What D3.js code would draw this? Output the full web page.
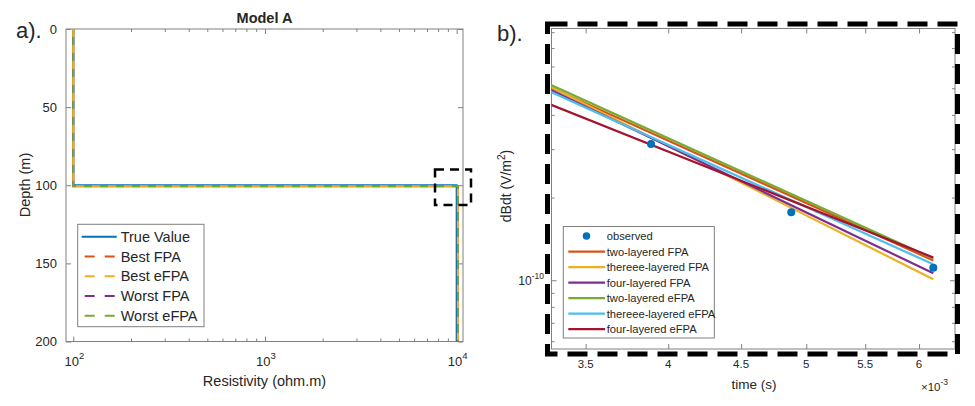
<!DOCTYPE html>
<html><head><meta charset="utf-8">
<script src="https://cdn.jsdelivr.net/npm/d3@7"></script>
<style>
body{margin:0;background:#fff}
svg{display:block}
text{font-family:Arial,"Liberation Sans",Helvetica,sans-serif;fill:#262626}
</style></head>
<body><svg id="c" width="975" height="406"></svg>
<script>
// ---------- Panel a data ----------
const depthTicks = [0, 50, 100, 150, 200];
const resTickExps = [2, 3, 4];
const modelNames = ["True Value", "Best FPA", "Best eFPA", "Worst FPA", "Worst eFPA"];
const topRes = [100, 100, 100, 100, 100];          // ohm.m, layer 1
const bottomRes = [10000, 10150, 10150, 10150, 10150]; // ohm.m, layer 2
const interfaceDepth = [100, 100.7, 100.7, 100.7, 100.7]; // m
const maxDepth = 200;

// ---------- Panel b data ----------
const timeTicks = [3.5e-3, 4e-3, 4.5e-3, 5e-3, 5.5e-3, 6e-3];
const timeTickLabels = ["3.5", "4", "4.5", "5", "5.5", "6"];
const obsTime = [3.89e-3, 4.88e-3, 6.14e-3];
const obsDbdt = [3.13e-10, 1.77e-10, 1.11e-10];
const fitNames = ["two-layered FPA", "thereee-layered FPA", "four-layered FPA",
                  "two-layered eFPA", "thereee-layered eFPA", "four-layered eFPA"];
const fitTime = [3.3e-3, 6.14e-3];
const fitTwoFPA    = [5.06e-10, 1.18e-10];
const fitThreeFPA  = [5.09e-10, 1.008e-10];
const fitFourFPA   = [4.96e-10, 1.06e-10];
const fitTwoEFPA   = [5.17e-10, 1.20e-10];
const fitThreeEFPA = [4.88e-10, 1.143e-10];
const fitFourEFPA  = [4.38e-10, 1.21e-10];
const fitSeries = [fitTwoFPA, fitThreeFPA, fitFourFPA, fitTwoEFPA, fitThreeEFPA, fitFourEFPA];

// ---------- styles ----------
const modelColors = ["#0072BD", "#D95319", "#EDB120", "#7E2F8E", "#77AC30"];
const fitColors = ["#D95319", "#EDB120", "#7E2F8E", "#77AC30", "#4DBEEE", "#A2142F"];
const boxCol = "#808080";

const svg = d3.select("#c");

function styleAxis(g) {
  g.select(".domain").remove();
  g.selectAll(".tick line").attr("stroke", boxCol);
  g.selectAll(".tick text").attr("fill", "#262626").style("font-family", "Arial,'Liberation Sans',sans-serif");
}

// =============== Panel a ===============
const ax = d3.scaleLog().domain([91.6, 10790]).range([66, 463]);
const ay = d3.scaleLinear().domain([0, 200]).range([29, 341.5]);
const A = svg.append("g");
A.append("rect").attr("x", 66).attr("y", 29).attr("width", 397).attr("height", 312.5)
  .attr("fill", "#fff").attr("stroke", boxCol).attr("stroke-width", 1);

const minorA = [];
[100, 1000].forEach(b => d3.range(2, 10).forEach(m => minorA.push(b * m)));
const majorA = resTickExps.map(e => Math.pow(10, e));

A.append("g").attr("transform", "translate(0,341.5)")
  .call(d3.axisBottom(ax).tickValues(majorA).tickSize(-5).tickFormat("")).call(styleAxis);
A.append("g").attr("transform", "translate(0,341.5)")
  .call(d3.axisBottom(ax).tickValues(minorA).tickSize(-3).tickFormat("")).call(styleAxis);
A.append("g").attr("transform", "translate(0,29)")
  .call(d3.axisTop(ax).tickValues(majorA).tickSize(-5).tickFormat("")).call(styleAxis);
A.append("g").attr("transform", "translate(0,29)")
  .call(d3.axisTop(ax).tickValues(minorA).tickSize(-3).tickFormat("")).call(styleAxis);
A.append("g").attr("transform", "translate(66,0)")
  .call(d3.axisLeft(ay).tickValues(depthTicks).tickSize(-5).tickPadding(9))
  .call(styleAxis).selectAll("text").style("font-size", "13px");
A.append("g").attr("transform", "translate(463,0)")
  .call(d3.axisRight(ay).tickValues(depthTicks).tickSize(-5).tickFormat("")).call(styleAxis);

// x tick labels with superscripts
resTickExps.forEach(e => {
  const t = A.append("text").attr("x", ax(Math.pow(10, e)) + 1).attr("y", 366)
    .attr("text-anchor", "middle").style("font-size", "13px");
  t.append("tspan").text("10");
  t.append("tspan").attr("dy", -7).style("font-size", "9.5px").text(e);
});

// model profiles
const lineA = d3.line().x(d => ax(d[0])).y(d => ay(d[1]));
const dashOff = [0, 0, 0, 8, 8];
modelNames.forEach((n, i) => {
  const pts = [[topRes[i], 0], [topRes[i], interfaceDepth[i]],
               [bottomRes[i], interfaceDepth[i]], [bottomRes[i], maxDepth]];
  A.append("path").attr("d", lineA(pts)).attr("fill", "none")
    .attr("stroke", modelColors[i]).attr("stroke-width", 2)
    .attr("stroke-dasharray", i === 0 ? null : "8,8")
    .attr("stroke-dashoffset", dashOff[i]);
});

// title and axis labels
A.append("text").attr("x", 264.5).attr("y", 23).attr("text-anchor", "middle")
  .style("font-size", "14.5px").style("font-weight", "bold").attr("fill", "#000").text("Model A");
A.append("text").attr("transform", "translate(30,185) rotate(-90)").attr("text-anchor", "middle")
  .style("font-size", "14.5px").text("Depth (m)");
A.append("text").attr("x", 264.5).attr("y", 386).attr("text-anchor", "middle")
  .style("font-size", "14.5px").text("Resistivity (ohm.m)");

// legend a
const LA = A.append("g");
LA.append("rect").attr("x", 77.7).attr("y", 224.3).attr("width", 126.3).attr("height", 102.4)
  .attr("fill", "#fff").attr("stroke", boxCol).attr("stroke-width", 1);
modelNames.forEach((n, i) => {
  const yy = 236.7 + i * 19.75;
  LA.append("line").attr("x1", 81.7).attr("x2", 116.7).attr("y1", yy).attr("y2", yy)
    .attr("stroke", modelColors[i]).attr("stroke-width", 2)
    .attr("stroke-dasharray", i === 0 ? null : "10,10").attr("stroke-dashoffset", i === 0 ? 0 : -3);
  LA.append("text").attr("x", 120.7).attr("y", yy).attr("dy", "0.35em")
    .style("font-size", "14.5px").text(n);
});

// zoom box
A.append("rect").attr("x", 435).attr("y", 169.5).attr("width", 36).attr("height", 35.5)
  .attr("fill", "none").attr("stroke", "#000").attr("stroke-width", 2.5).attr("stroke-dasharray", "9,6");

// panel label
svg.append("text").attr("x", 16).attr("y", 38).style("font-size", "22px").attr("fill", "#000").text("a).");

// =============== Panel b ===============
const bx = d3.scaleLog().domain([3.312e-3, 6.359e-3]).range([551.5, 955]);
const by = d3.scaleLog().domain([5.62e-11, 8.25e-10]).range([349, 28.5]);
const B = svg.append("g");
B.append("rect").attr("x", 551.5).attr("y", 28.5).attr("width", 403.5).attr("height", 320.5)
  .attr("fill", "#fff").attr("stroke", boxCol).attr("stroke-width", 1);
B.append("clipPath").attr("id", "clipB").append("rect")
  .attr("x", 551.5).attr("y", 28.5).attr("width", 403.5).attr("height", 320.5);

const minorB = [];
[1e-11, 1e-10].forEach(b => d3.range(1, 10).forEach(m => {
  const v = b * m; if (v > 5.62e-11 && v < 8.25e-10 && v !== 1e-10) minorB.push(v);
}));
B.append("g").attr("transform", "translate(0,349)")
  .call(d3.axisBottom(bx).tickValues(timeTicks).tickSize(-5).tickFormat("")).call(styleAxis);
B.append("g").attr("transform", "translate(0,28.5)")
  .call(d3.axisTop(bx).tickValues(timeTicks).tickSize(-5).tickFormat("")).call(styleAxis);
B.append("g").attr("transform", "translate(551.5,0)")
  .call(d3.axisLeft(by).tickValues([1e-10]).tickSize(-5).tickFormat("")).call(styleAxis);
B.append("g").attr("transform", "translate(551.5,0)")
  .call(d3.axisLeft(by).tickValues(minorB).tickSize(-3).tickFormat("")).call(styleAxis);
B.append("g").attr("transform", "translate(955,0)")
  .call(d3.axisRight(by).tickValues([1e-10]).tickSize(-5).tickFormat("")).call(styleAxis);
B.append("g").attr("transform", "translate(955,0)")
  .call(d3.axisRight(by).tickValues(minorB).tickSize(-3).tickFormat("")).call(styleAxis);

timeTicks.forEach((t, i) => {
  B.append("text").attr("x", bx(t)).attr("y", 368).attr("text-anchor", "middle")
    .style("font-size", "11.5px").attr("fill", "#404040").text(timeTickLabels[i]);
});
const yl = B.append("text").attr("x", 544).attr("y", by(1e-10) + 4.5).attr("text-anchor", "end")
  .style("font-size", "12px").attr("fill", "#404040");
yl.append("tspan").text("10");
yl.append("tspan").attr("dy", -6).style("font-size", "8.5px").text("-10");

B.append("text").attr("x", 754).attr("y", 389).attr("text-anchor", "middle")
  .style("font-size", "13.5px").attr("fill", "#404040").text("time (s)");
const ex = B.append("text").attr("x", 921).attr("y", 391).style("font-size", "11.5px").attr("fill", "#404040");
ex.append("tspan").text("\u00d710");
ex.append("tspan").attr("dy", -6).style("font-size", "8.5px").text("-3");

const yt = B.append("text").attr("transform", "translate(511,186) rotate(-90)").attr("text-anchor", "middle")
  .style("font-size", "14px").attr("fill", "#404040");
yt.append("tspan").text("dBdt (V/m");
yt.append("tspan").attr("dy", -6).style("font-size", "10px").text("2");
yt.append("tspan").attr("dy", 6).text(")");

// fitted lines
const lineB = d3.line().x(d => bx(d[0])).y(d => by(d[1]));
const plotB = B.append("g").attr("clip-path", "url(#clipB)");
fitSeries.forEach((s, i) => {
  plotB.append("path").attr("d", lineB(fitTime.map((t, j) => [t, s[j]])))
    .attr("fill", "none").attr("stroke", fitColors[i]).attr("stroke-width", 2.2);
});
obsTime.forEach((t, i) => {
  plotB.append("circle").attr("cx", bx(t)).attr("cy", by(obsDbdt[i])).attr("r", 4).attr("fill", "#0072BD");
});

// legend b
const LB = B.append("g");
LB.append("rect").attr("x", 563.3).attr("y", 226.5).attr("width", 151).attr("height", 111.5)
  .attr("fill", "#fff").attr("stroke", boxCol).attr("stroke-width", 1);
LB.append("circle").attr("cx", 586.5).attr("cy", 236).attr("r", 3.8).attr("fill", "#0072BD");
LB.append("text").attr("x", 606.7).attr("y", 236).attr("dy", "0.35em").style("font-size", "11.2px").text("observed");
fitNames.forEach((n, i) => {
  const yy = 251.6 + i * 15.5;
  LB.append("line").attr("x1", 568.3).attr("x2", 605).attr("y1", yy).attr("y2", yy)
    .attr("stroke", fitColors[i]).attr("stroke-width", 2.2);
  LB.append("text").attr("x", 606.7).attr("y", yy).attr("dy", "0.35em").style("font-size", "11.2px").text(n);
});

// dashed frame
B.append("rect").attr("x", 547.5).attr("y", 24).attr("width", 410).attr("height", 330)
  .attr("fill", "none").attr("stroke", "#000").attr("stroke-width", 5).attr("stroke-dasharray", "20,10");

svg.append("text").attr("x", 497).attr("y", 41).style("font-size", "22px").attr("fill", "#000").text("b).");
</script></body></html>
